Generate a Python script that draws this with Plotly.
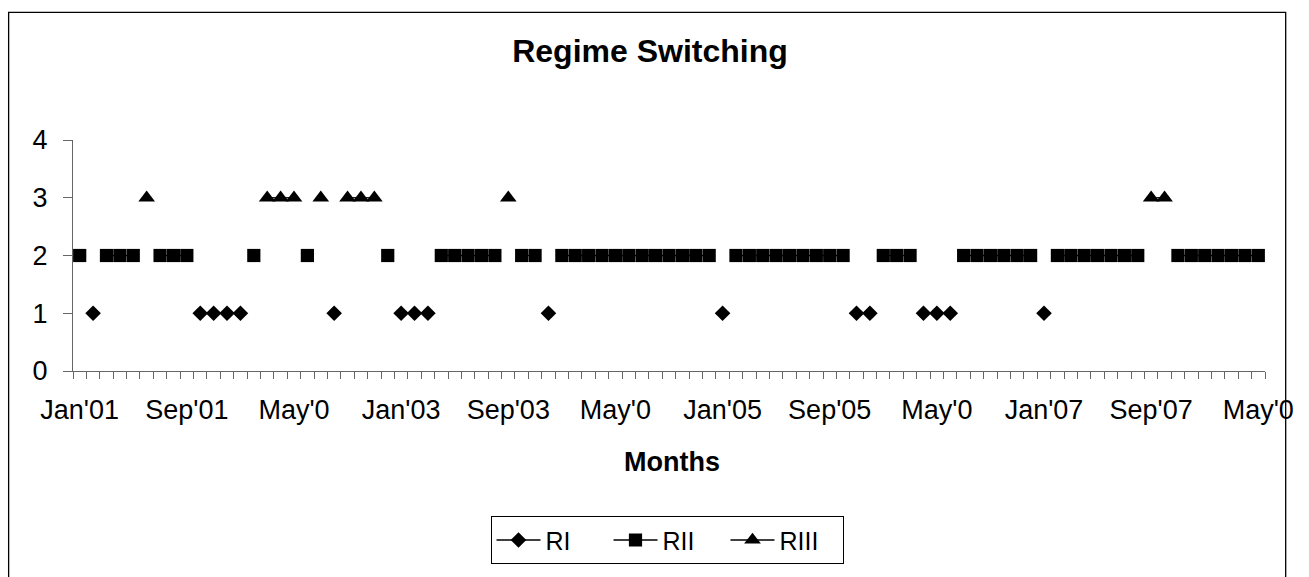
import plotly.graph_objects as go
import pandas as pd

# Month categories Jan'01 .. May'08
months = [d.strftime("%b'%y") for d in pd.date_range("2001-01-01", "2008-05-01", freq="MS")]

# Regime observed in each month (1 = RI, 2 = RII, 3 = RIII)
regime = [2, 1, 2, 2, 2, 3, 2, 2, 2, 1, 1, 1, 1, 2, 3, 3, 3, 2, 3, 1,
          3, 3, 3, 2, 1, 1, 1, 2, 2, 2, 2, 2, 3, 2, 2, 1, 2, 2, 2, 2,
          2, 2, 2, 2, 2, 2, 2, 2, 1, 2, 2, 2, 2, 2, 2, 2, 2, 2, 1, 1,
          2, 2, 2, 1, 1, 1, 2, 2, 2, 2, 2, 2, 1, 2, 2, 2, 2, 2, 2, 2,
          3, 3, 2, 2, 2, 2, 2, 2, 2]

tick_idx = [0, 8, 16, 24, 32, 40, 48, 56, 64, 72, 80, 88]
tick_labels = ["Jan'01", "Sep'01", "May'0", "Jan'03", "Sep'03", "May'0",
               "Jan'05", "Sep'05", "May'0", "Jan'07", "Sep'07", "May'0"]

series_names = ["RI", "RII", "RIII"]
series_levels = [1, 2, 3]
series_symbols = ["diamond", "square", "triangle-up"]
series_sizes = [12, 13.2, 14.5]

x = list(range(len(months)))
FONT = "Liberation Sans, Arial, sans-serif"

fig = go.Figure()
for name, lvl, sym, sz in zip(series_names, series_levels, series_symbols, series_sizes):
    y = [lvl if r == lvl else None for r in regime]
    fig.add_trace(go.Scatter(
        x=x, y=y, name=name, mode="lines+markers",
        line=dict(color="black", width=1.3),
        marker=dict(symbol=sym, size=sz, color="black"),
        connectgaps=False,
        text=months, hovertemplate="%{text}: %{y}<extra>" + name + "</extra>",
    ))

L, R, T, B = 72.7, 1265.3, 140, 377
W, H = 1309, 577
pw, ph = R - L, B - T

def px(xp):
    return (xp - L) / pw

def py(yp):
    return (B - yp) / ph

fig.update_layout(
    width=W, height=H, autosize=False,
    margin=dict(l=L, r=W - R, t=T, b=H - B, pad=0),
    paper_bgcolor="white", plot_bgcolor="white",
    font=dict(family=FONT, color="black", size=24),
    title=dict(text="<b>Regime Switching</b>", xref="container", yref="container",
               x=650 / W, y=1 - 51 / H, xanchor="center", yanchor="middle",
               font=dict(size=32, family=FONT, color="black")),
    showlegend=True,
    legend=dict(orientation="h", x=px(667), y=py(526), xanchor="center", yanchor="top",
                bordercolor="black", borderwidth=1, bgcolor="white",
                font=dict(size=25, family=FONT, color="black"),
                itemwidth=44, entrywidth=58, tracegroupgap=0),
    xaxis=dict(range=[-0.5, len(months) - 0.5], showgrid=False, zeroline=False,
               showline=True, linecolor="#666", linewidth=1.3,
               tickmode="array", tickvals=tick_idx, ticktext=tick_labels,
               ticks="", tickfont=dict(size=27, family=FONT, color="black"),
               ticklabelstandoff=14,
               minor=dict(ticks="outside", tick0=-0.5, dtick=1, ticklen=7,
                          tickcolor="#666", tickwidth=1.3, showgrid=False)),
    yaxis=dict(range=[0, 4], dtick=1, tick0=0, showgrid=False, zeroline=False,
               showline=True, linecolor="#666", linewidth=1.3,
               ticks="outside", ticklen=9, tickcolor="#666", tickwidth=1.3,
               tickfont=dict(size=27, family=FONT, color="black"),
               ticklabelstandoff=10),
    annotations=[dict(text="<b>Months</b>", xref="paper", yref="paper",
                      x=px(671.7), y=py(470), xanchor="center", yanchor="middle",
                      showarrow=False, font=dict(size=27, family=FONT, color="black"))],
    shapes=[dict(type="rect", xref="paper", yref="paper",
                 x0=px(8.3), x1=px(1286), y0=py(590), y1=py(9),
                 line=dict(color="black", width=1.3), layer="below")],
)

fig.write_html("out.html")
